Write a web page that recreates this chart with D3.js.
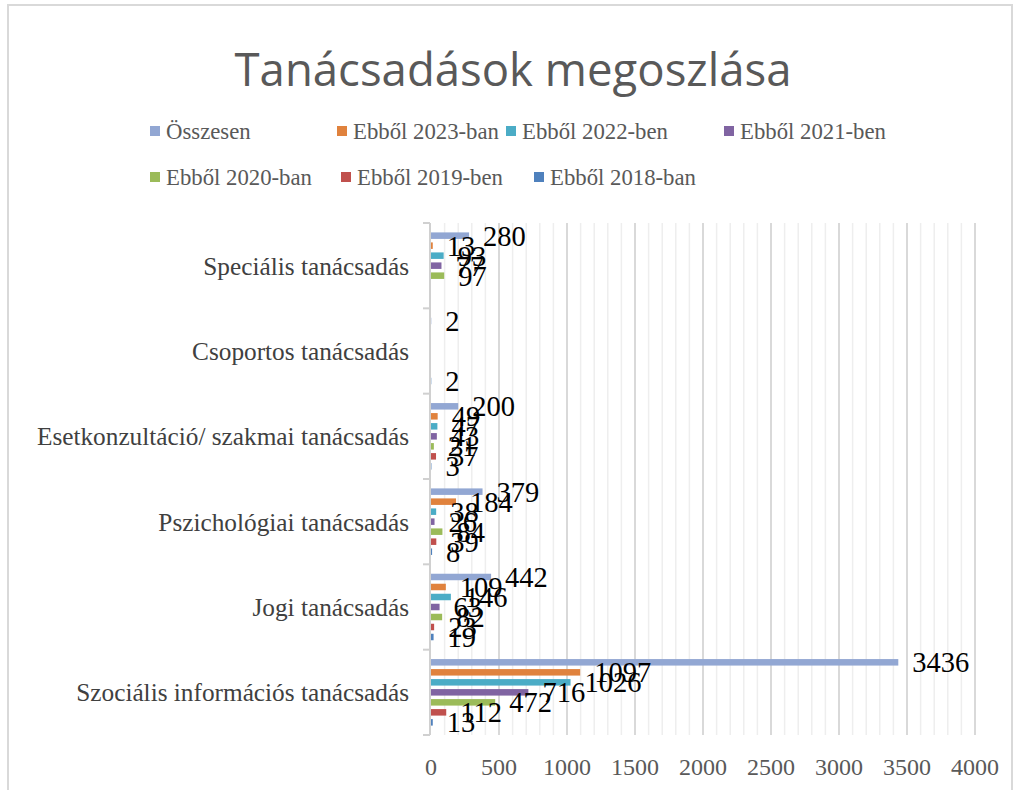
<!DOCTYPE html>
<html>
<head>
<meta charset="utf-8">
<script src="https://cdn.jsdelivr.net/npm/d3@7"></script>
<style>
  html, body { margin: 0; padding: 0; background: #fff; }
  svg { display: block; }
</style>
</head>
<body>
<svg id="chart" width="1018" height="790"></svg>
<script>
const title = "Tanácsadások megoszlása";
const categories = [
  "Speciális tanácsadás",
  "Csoportos tanácsadás",
  "Esetkonzultáció/ szakmai tanácsadás",
  "Pszichológiai tanácsadás",
  "Jogi tanácsadás",
  "Szociális információs tanácsadás"
];
const seriesNames = ["Összesen", "Ebből 2023-ban", "Ebből 2022-ben", "Ebből 2021-ben", "Ebből 2020-ban", "Ebből 2019-ben", "Ebből 2018-ban"];
const seriesColors = ["#92A7D3", "#E0823D", "#4BACC6", "#8064A2", "#9BBB59", "#C0504D", "#4F81BD"];
// values per series, in category order
const osszesen = [280, 2, 200, 379, 442, 3436];
const y2023    = [13, null, 49, 184, 109, 1097];
const y2022    = [93, null, 47, 38, 146, 1026];
const y2021    = [77, null, 43, 26, 63, 716];
const y2020    = [97, null, 21, 84, 82, 472];
const y2019    = [null, null, 37, 39, 23, 112];
const y2018    = [null, 2, 3, 8, 19, 13];
const seriesValues = [osszesen, y2023, y2022, y2021, y2020, y2019, y2018];
const xTicks = [0, 500, 1000, 1500, 2000, 2500, 3000, 3500, 4000];

// legend layout (x positions of markers, rows)
const legendPos = [[150, 0], [337, 0], [506, 0], [724, 0], [150, 1], [341, 1], [534, 1]];

const svg = d3.select("#chart");
const serif = "'Liberation Serif', 'Times New Roman', serif";

// font size that makes `str` take `target` px
function fitSize(str, family, target) {
  const tmp = svg.append("text").style("font-family", family).style("font-size", "100px").text(str);
  const w = tmp.node().getComputedTextLength();
  tmp.remove();
  return 100 * target / w;
}

// chart border
svg.append("rect").attr("x", 8).attr("y", 5).attr("width", 1004).attr("height", 800)
  .attr("fill", "none").attr("stroke", "#D9D9D9").attr("stroke-width", 2);

// title
const titleFont = "'Open Sans', 'Liberation Sans', sans-serif";
svg.append("text").attr("x", 513).attr("y", 86).attr("text-anchor", "middle")
  .attr("fill", "#595959").style("font-family", titleFont)
  .style("font-size", fitSize(title, titleFont, 557) + "px").text(title);

// legend
const legendSize = fitSize("Ebből 2023-ban", serif, 146);
const lg = svg.append("g");
seriesNames.forEach((name, i) => {
  const [lx, row] = legendPos[i];
  const cy = 131 + row * 46;
  lg.append("rect").attr("x", lx).attr("y", cy - 5).attr("width", 10).attr("height", 10).attr("fill", seriesColors[i]);
  lg.append("text").attr("x", lx + 16).attr("y", cy).attr("dy", "0.35em")
    .attr("fill", "#595959").style("font-family", serif).style("font-size", legendSize + "px").text(name);
});

// scales
const x = d3.scaleLinear().domain([0, 4000]).range([431, 975]);
const y = d3.scaleBand().domain(categories).range([223, 735]).padding(0);
const inner = d3.scaleBand().domain(seriesNames).range([0, y.bandwidth()]).paddingInner(0.35).paddingOuter(0.94);

// minor gridlines
const minor = d3.range(100, 4001, 100).filter(v => v % 500 !== 0);
svg.append("g").selectAll("line").data(minor).join("line")
  .attr("x1", d => x(d)).attr("x2", d => x(d)).attr("y1", 223).attr("y2", 735)
  .attr("stroke", "#EEEEEE").attr("stroke-width", 1.5);
// major gridlines
svg.append("g").selectAll("line").data(xTicks.slice(1)).join("line")
  .attr("x1", d => x(d)).attr("x2", d => x(d)).attr("y1", 223).attr("y2", 735)
  .attr("stroke", "#D9D9D9").attr("stroke-width", 2);

// bars
const gBars = svg.append("g");
seriesNames.forEach((name, si) => {
  categories.forEach((cat, ci) => {
    const v = seriesValues[si][ci];
    if (v == null) return;
    gBars.append("rect")
      .attr("x", x(0)).attr("y", y(cat) + inner(name))
      .attr("width", Math.max(0, x(v) - x(0))).attr("height", inner.bandwidth())
      .attr("fill", seriesColors[si]);
  });
});

// y axis line and ticks
svg.append("line").attr("x1", 430).attr("x2", 430).attr("y1", 223).attr("y2", 735)
  .attr("stroke", "#D0D0D0").attr("stroke-width", 2);
const bounds = categories.map(c => y(c)).concat([735]);
svg.append("g").selectAll("line").data(bounds).join("line")
  .attr("x1", 423).attr("x2", 430).attr("y1", d => d).attr("y2", d => d)
  .attr("stroke", "#D0D0D0").attr("stroke-width", 2);

// category labels
const catSize = fitSize("Szociális információs tanácsadás", serif, 333);
svg.append("g").selectAll("text").data(categories).join("text")
  .attr("x", 409).attr("y", d => y(d) + y.bandwidth() / 2).attr("dy", "0.35em")
  .attr("text-anchor", "end").attr("fill", "#404040")
  .style("font-family", serif).style("font-size", catSize + "px").text(d => d);

// x tick labels
const tickSize = fitSize("4000", serif, 48);
svg.append("g").selectAll("text").data(xTicks).join("text")
  .attr("x", d => x(d)).attr("y", 767).attr("dy", "0.35em").attr("text-anchor", "middle")
  .attr("fill", "#595959").style("font-family", serif).style("font-size", tickSize + "px").text(d => d);

// data labels
const labSize = fitSize("3436", serif, 57);
const gLab = svg.append("g");
seriesNames.forEach((name, si) => {
  categories.forEach((cat, ci) => {
    const v = seriesValues[si][ci];
    if (v == null) return;
    gLab.append("text")
      .attr("x", x(v) + 14).attr("y", y(cat) + inner(name) + inner.bandwidth() / 2).attr("dy", "0.35em")
      .attr("fill", "#000").style("font-family", serif).style("font-size", labSize + "px").text(v);
  });
});
</script>
</body>
</html>
